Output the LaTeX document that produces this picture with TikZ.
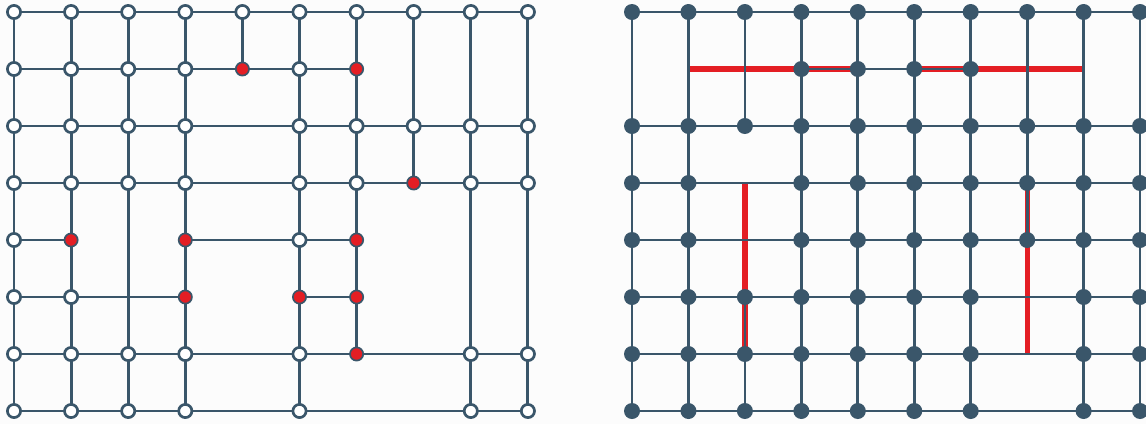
\documentclass[tikz,border=0pt]{standalone}

\definecolor{slate}{RGB}{58,86,106}
\definecolor{alarm}{RGB}{228,30,36}
\definecolor{paper}{RGB}{252,252,252}

\tikzset{
  link/.style={draw=slate, line width=2pt},
  cut/.style={draw=alarm, line width=3.7pt},
  free/.style={circle, draw=slate, fill=white, line width=1.9pt, minimum size=3.3mm, inner sep=0pt},
  hit/.style={free, fill=alarm, line width=1.2pt},
  full/.style={circle, fill=slate, minimum size=4mm, inner sep=0pt},
}

\begin{document}
\begin{tikzpicture}[x=0.025cm, y=-0.025cm]
    % 1 unit = 1 px of the 1146 x 424 picture, y runs downwards
    \useasboundingbox (0,0) rectangle (1146,424);
    \fill[paper] (0,0) rectangle (1146,424);

    % grid points: L = left lattice, R = right lattice (column, row)
    \foreach \i in {0,...,9} {
      \foreach \j in {0,...,7} {
        \coordinate (L\i\j) at ({14+57.1*\i}, {12+57*\j});
        \coordinate (R\i\j) at ({632+56.45*\i}, {12+57*\j});
      }
    }

    % ---- left lattice ----
    % rows
    \foreach \a/\b in {L00/L90, L01/L61, L02/L92, L03/L93, L04/L14,
                       L34/L64, L05/L35, L55/L65, L06/L96, L07/L97}
      \draw[link] (\a) -- (\b);
    % columns
    \foreach \a/\b in {L00/L07, L10/L17, L20/L27, L30/L37, L40/L41,
                       L50/L57, L60/L66, L70/L73, L80/L87, L90/L97}
      \draw[link] (\a) -- (\b);

    % open vertices, row by row
    \foreach \j/\cols in {0/{0,1,2,3,4,5,6,7,8,9}, 1/{0,1,2,3,5},
                          2/{0,1,2,3,5,6,7,8,9}, 3/{0,1,2,3,5,6,8,9},
                          4/{0,5}, 5/{0,1},
                          6/{0,1,2,3,5,8,9}, 7/{0,1,2,3,5,8,9}} {
      \foreach \i in \cols
        \node[free] (nL\i\j) at (L\i\j) {};
    }
    % red vertices
    \foreach \p in {41, 61, 73, 14, 34, 64, 35, 55, 65, 66}
      \node[hit] (nL\p) at (L\p) {};

    % ---- right lattice ----
    % red bars first, grey lines on top
    \foreach \a/\b in {R11/R41, R51/R81, R23/R26, R73/R76}
      \draw[cut] (\a) -- (\b);

    % rows
    \foreach \a/\b in {R00/R90, R31/R61, R02/R92, R03/R93,
                       R04/R94, R05/R95, R06/R96, R07/R97}
      \draw[link] (\a) -- (\b);
    % columns
    \foreach \a/\b in {R00/R07, R10/R17, R20/R22, R25/R27, R30/R37,
                       R40/R47, R50/R57, R60/R67, R70/R74, R80/R87, R90/R97}
      \draw[link] (\a) -- (\b);

    % filled vertices, row by row
    \foreach \j/\cols in {0/{0,1,2,3,4,5,6,7,8,9}, 1/{3,4,5,6},
                          2/{0,1,2,3,4,5,6,7,8,9}, 3/{0,1,3,4,5,6,7,8,9},
                          4/{0,1,3,4,5,6,7,8,9}, 5/{0,1,2,3,4,5,6,8,9},
                          6/{0,1,2,3,4,5,6,8,9}, 7/{0,1,2,3,4,5,6,8,9}} {
      \foreach \i in \cols
        \node[full] (nR\i\j) at (R\i\j) {};
    }

  \end{tikzpicture}
\end{document}
